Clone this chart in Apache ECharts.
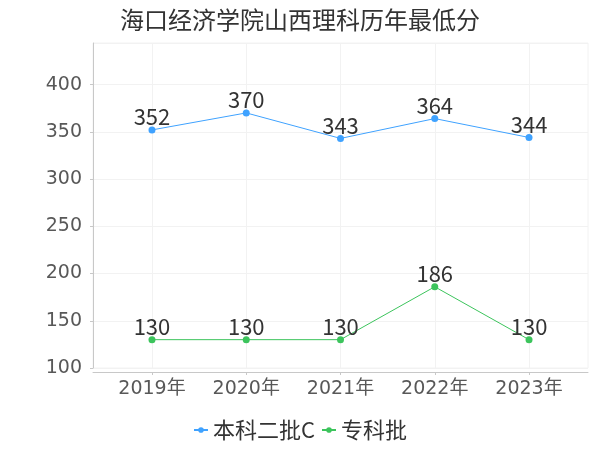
<!DOCTYPE html>
<html><head><meta charset="utf-8">
<script src="https://cdn.jsdelivr.net/npm/echarts@6/dist/echarts.min.js"></script>
<style>html,body{margin:0;padding:0;background:#fff}#c{width:600px;height:450px}</style>
</head><body><div id="c"></div>
<script>
const titleText = '海口经济学院山西理科历年最低分';
const years = ['2019年', '2020年', '2021年', '2022年', '2023年'];
const seriesNames = ['本科二批C', '专科批'];
const benke = [352, 370, 343, 364, 344];
const zhuanke = [130, 130, 130, 186, 130];
const colors = ['#3fa2ff', '#3cc45c'];

const chart = echarts.init(document.getElementById('c'), null, {renderer: 'canvas'});
const axisFont = 'DejaVu Sans, Noto Sans CJK SC, sans-serif';
const cjkFont = 'Noto Sans CJK SC, sans-serif';
const faint = '#f2f2f2';
const mkSeries = (name, data, color) => ({
  name, type: 'line', data, xAxisIndex: 1, yAxisIndex: 1,
  symbol: 'circle', symbolSize: 7,
  itemStyle: {color},
  lineStyle: {color, width: 1},
  label: {show: true, position: 'top', distance: -1.5, color: '#333', fontSize: 22, fontFamily: cjkFont},
  emphasis: {disabled: true}
});
chart.setOption({
  animation: false,
  title: {text: titleText, left: 'center', top: 3,
    textStyle: {fontSize: 24, fontWeight: 'normal', color: '#333', fontFamily: cjkFont}},
  legend: {bottom: 4, left: 'center', itemWidth: 14, itemHeight: 7, itemGap: 6,
    textStyle: {fontSize: 22, color: '#333', fontFamily: cjkFont},
    data: seriesNames},
  grid: [
    {left: 93, right: 12, top: 43, bottom: 82, show: true, borderColor: faint, borderWidth: 1},
    {left: 104.85, right: 23.85, top: 43, bottom: 82}
  ],
  xAxis: [
    {type: 'value', gridIndex: 0, min: 0, max: 1, offset: 4,
      axisLine: {show: true, lineStyle: {color: '#c8c8c8'}},
      axisTick: {show: false}, axisLabel: {show: false}, splitLine: {show: false}},
    {type: 'category', gridIndex: 1, data: years, boundaryGap: true, offset: 4,
      axisLine: {show: false},
      axisTick: {show: true, alignWithLabel: true, length: 3, lineStyle: {color: '#c8c8c8'}},
      axisLabel: {fontSize: 19, color: '#585858', fontFamily: axisFont, margin: 8},
      splitLine: {show: true, alignWithLabel: true, lineStyle: {color: faint}}}
  ],
  yAxis: [
    {type: 'value', gridIndex: 0, min: 100, max: 444, interval: 50, offset: 4,
      axisLine: {show: true, lineStyle: {color: '#c8c8c8'}},
      axisTick: {show: true, length: 3, lineStyle: {color: '#c8c8c8'}},
      axisLabel: {fontSize: 19, color: '#585858', fontFamily: axisFont, margin: 7, showMaxLabel: false},
      splitLine: {show: true, lineStyle: {color: faint}}},
    {type: 'value', gridIndex: 1, min: 100, max: 444, interval: 50, show: false,
      splitLine: {show: false}}
  ],
  series: [
    mkSeries(seriesNames[0], benke, colors[0]),
    mkSeries(seriesNames[1], zhuanke, colors[1])
  ]
});
</script></body></html>
